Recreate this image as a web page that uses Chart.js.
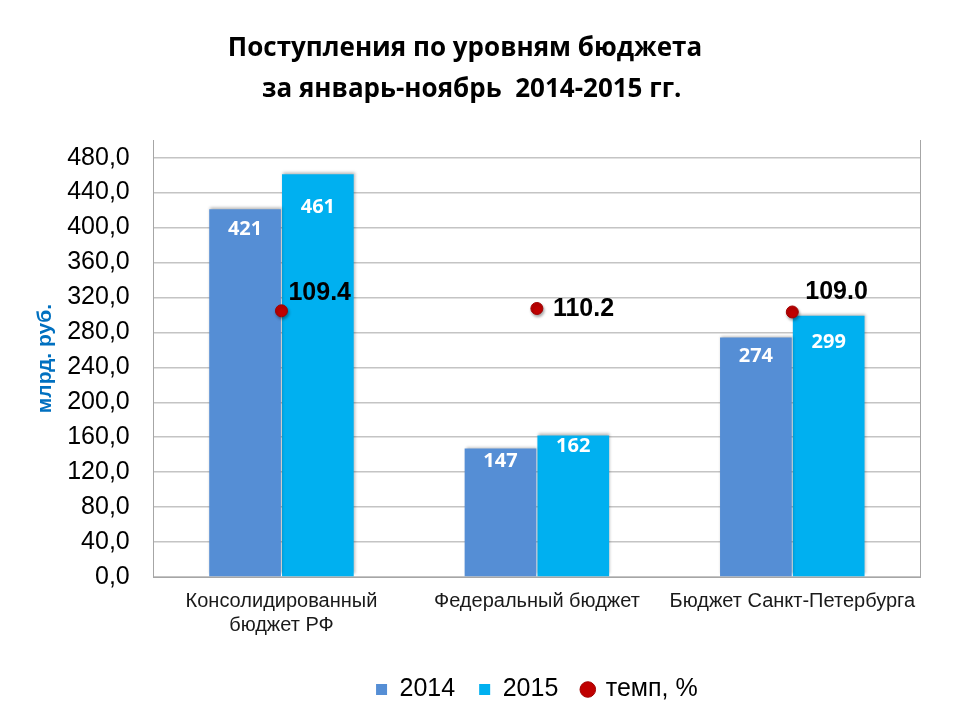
<!DOCTYPE html>
<html>
<head>
<meta charset="utf-8">
<script src="https://cdn.jsdelivr.net/npm/chart.js@4.4.0/dist/chart.umd.min.js"></script>
<style>
  html, body { margin: 0; padding: 0; background: #ffffff; }
  #wrap { width: 960px; height: 720px; }
</style>
</head>
<body>
<div id="wrap"><canvas id="c" width="960" height="720"></canvas></div>
<script>
const categories = [["Консолидированный", "бюджет РФ"], "Федеральный бюджет", "Бюджет Санкт-Петербурга"];
const values2014 = [421, 147, 274];
const values2015 = [461, 162, 299];
const tempo = [109.4, 110.2, 109.0];
const tempoLabels = ["109.4", "110.2", "109.0"];
const yTicks = [0, 40, 80, 120, 160, 200, 240, 280, 320, 360, 400, 440, 480];

const barShadow = {
  id: 'barShadow',
  beforeDatasetDraw(chart, args) {
    const ctx = chart.ctx;
    ctx.save();
    if (args.meta.type === 'bar') {
      ctx.shadowColor = 'rgba(0,0,0,0.28)';
      ctx.shadowBlur = 3;
      ctx.shadowOffsetX = 1;
      ctx.shadowOffsetY = -2;
    } else {
      ctx.shadowColor = 'rgba(0,0,0,0.35)';
      ctx.shadowBlur = 3;
      ctx.shadowOffsetX = 1;
      ctx.shadowOffsetY = 2;
    }
  },
  afterDatasetDraw(chart) {
    chart.ctx.restore();
  }
};

const valueLabels = {
  id: 'valueLabels',
  afterDatasetsDraw(chart, args, opts) {
    const ctx = chart.ctx;
    ctx.save();
    [0, 1].forEach((di) => {
      const meta = chart.getDatasetMeta(di);
      const ds = chart.data.datasets[di];
      meta.data.forEach((el, i) => {
        ctx.fillStyle = '#ffffff';
        ctx.font = 'bold 20px "Open Sans"';
        ctx.textAlign = 'center';
        ctx.textBaseline = 'middle';
        ctx.fillText(String(ds.data[i]), el.x, el.y + opts.barOffsets[di][i]);
      });
    });
    const meta = chart.getDatasetMeta(2);
    meta.data.forEach((el, i) => {
      ctx.fillStyle = '#000000';
      ctx.font = 'bold 25px "Liberation Sans", Arial';
      ctx.textAlign = 'left';
      ctx.textBaseline = 'middle';
      const off = opts.dotOffsets[i];
      ctx.fillText(tempoLabels[i], el.x + off[0], el.y + off[1]);
    });
    ctx.restore();
  }
};

new Chart(document.getElementById('c'), {
  data: {
    labels: categories,
    datasets: [
      {
        type: 'bar', label: '2014', data: values2014,
        backgroundColor: '#558ED5', borderWidth: 0,
        categoryPercentage: 0.57, barPercentage: 0.985,
        yAxisID: 'y', pointStyle: 'rect', order: 1
      },
      {
        type: 'bar', label: '2015', data: values2015,
        backgroundColor: '#00B0F0', borderWidth: 0,
        categoryPercentage: 0.57, barPercentage: 0.985,
        yAxisID: 'y', pointStyle: 'rect', order: 1
      },
      {
        type: 'line', label: 'темп, %', data: tempo,
        showLine: false, pointRadius: 6, pointHoverRadius: 6,
        pointBackgroundColor: '#C00000', pointBorderColor: '#A00000', pointBorderWidth: 1,
        backgroundColor: '#C00000', borderColor: '#C00000',
        yAxisID: 'y1', pointStyle: 'circle', order: -1
      }
    ]
  },
  options: {
    responsive: false,
    animation: false,
    devicePixelRatio: 1,
    layout: { padding: { left: 10, right: 40, top: 0, bottom: 8 } },
    plugins: {
      tooltip: { enabled: false },
      title: {
        display: true,
        text: ['Поступления по уровням бюджета', '  за январь-ноябрь  2014-2015 гг.'],
        color: '#000000',
        font: { family: '"Open Sans"', size: 26, weight: 'bold', lineHeight: 1.58 },
        padding: { top: 28, bottom: 30 }
      },
      legend: {
        position: 'bottom',
        fullSize: false,
        title: { display: true, text: ' ', font: { size: 1, lineHeight: 1 }, padding: { top: 3, bottom: 0 } },
        labels: {
          usePointStyle: true,
          boxWidth: 11, boxHeight: 11,
          color: '#000000',
          font: { family: '"Liberation Sans", Arial', size: 25 },
          padding: 24,
          sort: (a, b) => a.datasetIndex - b.datasetIndex
        }
      },
      valueLabels: {
        barOffsets: [[20, 13, 19], [33, 11, 27]],
        dotOffsets: [[7, -18], [16, 1], [13, -20]]
      }
    },
    scales: {
      x: {
        grid: { display: false, drawTicks: false },
        border: { display: true, color: '#A6A6A6', width: 1 },
        ticks: {
          color: '#1a1a1a',
          font: { family: '"Liberation Sans", Arial', size: 20, lineHeight: 1.2 },
          padding: 12,
          maxRotation: 0, autoSkip: false
        }
      },
      y: {
        position: 'left',
        min: 0, max: 500,
        afterBuildTicks: (axis) => { axis.ticks = yTicks.map(v => ({ value: v })); },
        grid: { color: '#C4C4C4', lineWidth: 1.5, drawTicks: false },
        border: { display: true, color: '#A6A6A6', width: 1 },
        ticks: {
          color: '#000000',
          font: { family: '"Liberation Sans", Arial', size: 25 },
          padding: 24,
          callback: (v) => Number(v).toFixed(1).replace('.', ',')
        },
        title: {
          display: true,
          text: 'млрд. руб.',
          color: '#0070C0',
          font: { family: '"Liberation Sans", Arial', size: 21, weight: 'bold', lineHeight: 1.2 },
          padding: { top: 23, bottom: -15 }
        }
      },
      y1: {
        position: 'right',
        min: 18, max: 168,
        grid: { drawOnChartArea: false, drawTicks: false },
        border: { display: true, color: '#A6A6A6', width: 1 },
        ticks: { display: false }
      }
    }
  },
  plugins: [barShadow, valueLabels]
});
</script>
</body>
</html>
